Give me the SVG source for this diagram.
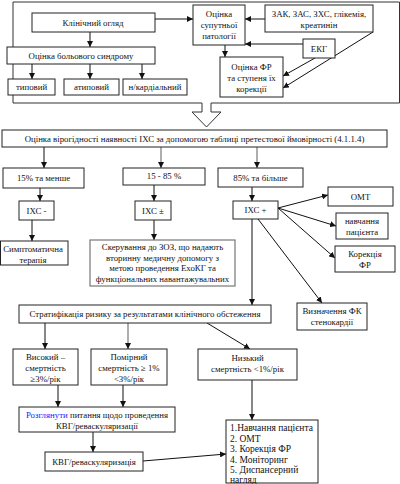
<svg xmlns="http://www.w3.org/2000/svg" width="400" height="484" viewBox="0 0 400 484" font-family="'Liberation Serif', 'Times New Roman', serif">
<style>
.b{fill:#fff;stroke:#222;stroke-width:1}
.g{fill:#fff;stroke:#777;stroke-width:1.2}
text{font-family:'Liberation Serif','Times New Roman',serif;font-size:8.8px;fill:#111;text-anchor:middle}
.l{text-anchor:start;font-size:9.5px}
.c{stroke:#111;stroke-width:1;fill:none;marker-end:url(#ah)}
.cg{stroke:#777;stroke-width:1.2;fill:none;marker-end:url(#ah)}
</style>
<defs>
<marker id="ah" viewBox="0 0 10 10" refX="10" refY="5" markerWidth="6" markerHeight="6" orient="auto" markerUnits="userSpaceOnUse">
<path d="M0,0 L10,5 L0,10 z" fill="#111"/>
</marker>
</defs>
<rect width="400" height="484" fill="#fff"/>
<g id="frame">
<path d="M202,103 H13 V2 H399.5 V103 H211" fill="none" stroke="#333" stroke-width="1"/>
<path d="M202,103 V112 H192 L206.5,127 L221,112 H211 V103" fill="#fff" stroke="#333" stroke-width="1"/>
</g>
<g id="connectors">
<path class="c" d="M155,19 H193"/>
<path class="c" d="M90,32 V47"/>
<path class="c" d="M32,64 V79"/>
<path class="c" d="M90,64 V79"/>
<path class="c" d="M142,64 V79"/>
<path class="c" d="M265,19 H245"/>
<path class="c" d="M303,44 H245"/>
<path class="c" d="M225,45 V57"/>
<path class="c" d="M315,58 L283,76"/>
<path class="c" d="M373,32 L283,88"/>
<path class="c" d="M44,147 V168"/>
<path class="cg" d="M161,147 V168"/>
<path class="cg" d="M257,147 V168"/>
<path class="c" d="M40,188 V201"/>
<path class="c" d="M32,220 V241"/>
<path class="c" d="M154,185 V201"/>
<path class="c" d="M154,220 V240"/>
<path class="c" d="M252,187 V201"/>
<path class="c" d="M278,208 L328,195"/>
<path class="c" d="M278,208 L336,226"/>
<path class="c" d="M278,208 L335,258"/>
<path class="c" d="M252,219 V305"/>
<path class="c" d="M258,219 L322,303"/>
<path class="c" d="M45,323 V349"/>
<path class="cg" d="M128,323 V349"/>
<path class="c" d="M207,323 L250,349"/>
<path class="c" d="M58,385 V407"/>
<path class="c" d="M123,385 V407"/>
<path class="c" d="M93,432 V452"/>
<path class="c" d="M143,461 L226,454"/>
<path class="c" d="M252,380 V420"/>
</g>
<g id="klinichnyi"><rect class="b" x="32" y="13" width="123" height="19"/><text x="93" y="25.5">Клінічний огляд</text></g>
<g id="suputnia"><rect class="b" x="193" y="5" width="52" height="40"/><text x="219" y="17">Оцінка</text><text x="219" y="28">супутньої</text><text x="219" y="39">патології</text></g>
<g id="analizy"><rect class="b" x="265" y="5" width="108" height="27"/><text x="319" y="17">ЗАК, ЗАС, ЗХС, глікемія,</text><text x="319" y="28">креатинін</text></g>
<g id="ekg"><rect class="b" x="303" y="39" width="32" height="19"/><text x="319" y="51.5">ЕКГ</text></g>
<g id="fr"><rect class="b" x="220" y="57" width="63" height="40"/><text x="251.5" y="70">Оцінка ФР</text><text x="251.5" y="81">та ступеня їх</text><text x="251.5" y="92">корекції</text></g>
<g id="bol"><rect class="b" x="7" y="47" width="148" height="17"/><text x="81" y="58.5">Оцінка больового синдрому</text></g>
<g id="typovyi"><rect class="b" x="8" y="79" width="47" height="16"/><text x="31.5" y="90">типовий</text></g>
<g id="atypovyi"><rect class="b" x="64" y="79" width="55" height="16"/><text x="91.5" y="90">атиповий</text></g>
<g id="nekard"><rect class="b" x="123" y="79" width="64" height="16"/><text x="155" y="90">н/кардіальний</text></g>
<g id="virohidnist"><rect class="b" x="2" y="130" width="385" height="17"/><text x="194.5" y="141.5">Оцінка вірогідності наявності ІХС за допомогою таблиці претестової ймовірності (4.1.1.4)</text></g>
<g id="p15"><rect class="b" x="3" y="168" width="81" height="20"/><text x="43.5" y="181">15% та менше</text></g>
<g id="p15_85"><rect class="b" x="123" y="168" width="82" height="17"/><text x="164" y="179">15 - 85 %</text></g>
<g id="p85"><rect class="b" x="218" y="168" width="85" height="19"/><text x="260.5" y="180.5">85% та більше</text></g>
<g id="ihs_minus"><rect class="b" x="19" y="201" width="35" height="19"/><text x="36.5" y="213.5">ІХС -</text></g>
<g id="ihs_pm"><rect class="b" x="135" y="201" width="36" height="19"/><text x="153" y="213.5">ІХС ±</text></g>
<g id="ihs_plus"><rect class="b" x="233" y="201" width="45" height="18"/><text x="255.5" y="213">ІХС +</text></g>
<g id="omt"><rect class="b" x="328" y="187" width="65" height="19"/><text x="360.5" y="199.5">ОМТ</text></g>
<g id="navchannia"><rect class="b" x="336" y="213" width="52" height="26"/><text x="362" y="224">навчання</text><text x="362" y="235">пацієнта</text></g>
<g id="korektsia"><rect class="b" x="335" y="246" width="60" height="26"/><text x="365" y="257">Корекція</text><text x="365" y="268">ФР</text></g>
<g id="symptom"><rect class="b" x="0.5" y="241" width="67.5" height="24"/><text x="33" y="252">Симптоматична</text><text x="33" y="263">терапія</text></g>
<g id="skeruvannia"><rect class="g" x="90" y="240" width="145" height="46"/><text x="162.5" y="250">Скерування до ЗОЗ, що надають</text><text x="162.5" y="260.5">вторинну медичну допомогу  з</text><text x="162.5" y="271">метою проведення ЕхоКГ та</text><text x="162.5" y="281.5">функціональних навантажувальних</text></g>
<g id="vyznachennia"><rect class="b" x="297" y="303" width="70" height="27"/><text x="332" y="314">Визначення ФК</text><text x="332" y="325">стенокардії</text></g>
<g id="stratyfikatsia"><rect class="b" x="19" y="305" width="252" height="18"/><text x="145" y="317">Стратифікація ризику за результатами клінічного обстеження</text></g>
<g id="vysokyi"><rect class="b" x="13" y="349" width="65" height="36"/><text x="45.5" y="360">Високий –</text><text x="45.5" y="371">смертність</text><text x="45.5" y="382">≥3%/рік</text></g>
<g id="pomirnyi"><rect class="b" x="91" y="349" width="76" height="36"/><text x="129" y="360">Помірний</text><text x="129" y="371">смертність ≥ 1%</text><text x="129" y="382">&lt;3%/рік</text></g>
<g id="nyzkyi"><rect class="b" x="198" y="349" width="99" height="31"/><text x="247.5" y="361">Низький</text><text x="247.5" y="372">смертність &lt;1%/рік</text></g>
<g id="rozghlianuty"><rect class="b" x="19" y="407" width="156" height="25"/><text x="97" y="418"><tspan fill="#1a1aff">Розглянути</tspan>  питання щодо проведення</text><text x="97" y="428.5">КВГ/реваскуляризації</text></g>
<g id="kvg"><rect class="b" x="45" y="452" width="98" height="19"/><text x="94" y="464.5">КВГ/реваскуляризація</text></g>
<g id="spysok"><rect class="b" x="226" y="420" width="92" height="63"/>
<text class="l" x="230" y="431">1.Навчання пацієнта</text>
<text class="l" x="230" y="441.5">2. ОМТ</text>
<text class="l" x="230" y="452">3. Корекція ФР</text>
<text class="l" x="230" y="462.5">4. Моніторинг</text>
<text class="l" x="230" y="473">5. Диспансерний</text>
<text class="l" x="230" y="482.5">нагляд</text></g>
</svg>
